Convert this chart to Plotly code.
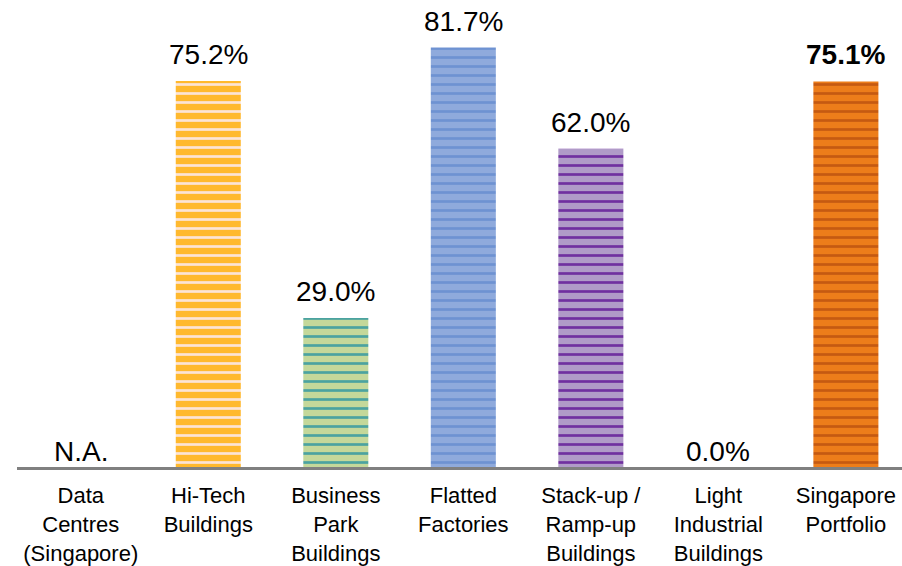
import plotly.graph_objects as go

categories = ["Data<br>Centres<br>(Singapore)", "Hi-Tech<br>Buildings", "Business<br>Park<br>Buildings",
              "Flatted<br>Factories", "Stack-up /<br>Ramp-up<br>Buildings", "Light<br>Industrial<br>Buildings",
              "Singapore<br>Portfolio"]
values = [None, 75.2, 29.0, 81.7, 62.0, 0.0, 75.1]
bg_colors = ["#FFFFFF", "#FFB92E", "#C4D89A", "#8FAADC", "#B09BC8", "#FFFFFF", "#ED7D1A"]
fg_colors = ["#FFFFFF", "#FCE4D6", "#4BA3A0", "#6E92D2", "#7030A0", "#FFFFFF", "#C55A11"]

ys = [v if v is not None else 0 for v in values]
texts = []
for i, v in enumerate(values):
    if v is None:
        texts.append("N.A.")
    elif i == len(values) - 1:
        texts.append(f"<b>{v:.1f}%</b>")
    else:
        texts.append(f"{v:.1f}%")

xs = list(range(len(categories)))

fig = go.Figure()
for x, y, bg, fg in zip(xs, ys, bg_colors, fg_colors):
    fig.add_trace(go.Bar(
        x=[x], y=[y], width=0.51,
        marker=dict(
            color=bg, line=dict(width=0),
            pattern=dict(shape="-", size=9, solidity=0.3, fillmode="overlay",
                         fgcolor=fg, fgopacity=1),
        ),
        hoverinfo="skip",
    ))

for x, y, t in zip(xs, ys, texts):
    fig.add_annotation(
        x=x, y=y, text=t, showarrow=False, yanchor="bottom", xanchor="center",
        yshift=9 if y > 0 else -2,
        font=dict(family="Liberation Sans, Arial", size=28, color="#000000"),
    )

fig.update_layout(
    width=902, height=566,
    margin=dict(l=17, r=0, t=8, b=99, autoexpand=False),
    paper_bgcolor="white", plot_bgcolor="white",
    showlegend=False, barmode="overlay",
    font=dict(family="Liberation Sans, Arial", color="#000000"),
)
fig.update_xaxes(
    range=[-0.5, 6.44], tickmode="array", tickvals=xs, ticktext=categories,
    showline=True, linecolor="#808080", linewidth=3, showgrid=False, zeroline=False,
    ticks="", tickfont=dict(size=22, family="Liberation Sans, Arial"),
    ticklabelstandoff=7, automargin=False,
)
fig.update_yaxes(range=[0, 89.4], visible=False, showgrid=False, zeroline=False, automargin=False)

fig.write_html("out.html", config={"displayModeBar": False},
               post_script="document.body.style.margin='0';")
